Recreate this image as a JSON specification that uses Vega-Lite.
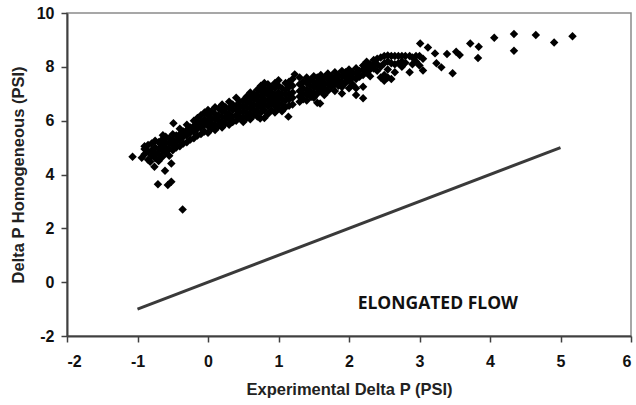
{
  "$schema": "https://vega.github.io/schema/vega-lite/v6.json",
  "width": 564,
  "height": 323,
  "autosize": {"type": "none"},
  "padding": {"left": 67, "top": 13, "right": 5, "bottom": 69},
  "background": "white",
  "config": {
    "view": {"stroke": "#8a8a8a", "strokeWidth": 1.5},
    "axis": {
      "domainColor": "#404040", "domainWidth": 2, "tickColor": "#404040", "tickWidth": 1.5, "tickSize": 6,
      "grid": false, "labelFont": "Liberation Sans", "labelFontWeight": "bold", "labelFontSize": 16, "labelColor": "#111",
      "titleFont": "Liberation Sans", "titleFontWeight": "bold", "titleFontSize": 16.5, "titleColor": "#222"
    }
  },
  "datasets": {
    "pts": [
      {"x": -1.07, "y": 4.66}, {"x": -0.94, "y": 4.62}, {"x": -0.82, "y": 4.47}, {"x": -0.76, "y": 4.29}, {"x": -0.61, "y": 4.14},
      {"x": -0.71, "y": 3.64}, {"x": -0.57, "y": 3.61}, {"x": -0.52, "y": 3.73}, {"x": -0.36, "y": 2.7}, {"x": -0.49, "y": 5.9},
      {"x": -0.64, "y": 5.46}, {"x": -0.52, "y": 4.41},
      {"x": -0.9, "y": 4.75}, {"x": -0.9, "y": 4.95}, {"x": -0.9, "y": 5.05},
      {"x": -0.85, "y": 4.55}, {"x": -0.85, "y": 4.85}, {"x": -0.85, "y": 5.1},
      {"x": -0.8, "y": 4.7}, {"x": -0.8, "y": 4.9}, {"x": -0.8, "y": 5.15},
      {"x": -0.75, "y": 4.6}, {"x": -0.75, "y": 4.8}, {"x": -0.75, "y": 5.0}, {"x": -0.75, "y": 5.25},
      {"x": -0.7, "y": 4.5}, {"x": -0.7, "y": 4.75}, {"x": -0.7, "y": 4.95}, {"x": -0.7, "y": 5.2},
      {"x": -0.65, "y": 4.65}, {"x": -0.65, "y": 4.9}, {"x": -0.65, "y": 5.1}, {"x": -0.65, "y": 5.3},
      {"x": -0.6, "y": 4.8}, {"x": -0.6, "y": 5.0}, {"x": -0.6, "y": 5.2}, {"x": -0.6, "y": 5.4},
      {"x": -0.55, "y": 4.7}, {"x": -0.55, "y": 4.95}, {"x": -0.55, "y": 5.15}, {"x": -0.55, "y": 5.35},
      {"x": -0.5, "y": 4.9}, {"x": -0.5, "y": 5.1}, {"x": -0.5, "y": 5.3}, {"x": -0.5, "y": 5.5},
      {"x": -0.45, "y": 5.0}, {"x": -0.45, "y": 5.2}, {"x": -0.45, "y": 5.45},
      {"x": -0.4, "y": 5.05}, {"x": -0.4, "y": 5.3}, {"x": -0.4, "y": 5.5}, {"x": -0.4, "y": 5.7},
      {"x": -0.35, "y": 5.15}, {"x": -0.35, "y": 5.4}, {"x": -0.35, "y": 5.6},
      {"x": -0.3, "y": 5.2}, {"x": -0.3, "y": 5.45}, {"x": -0.3, "y": 5.65}, {"x": -0.3, "y": 5.85},
      {"x": -0.25, "y": 5.3}, {"x": -0.25, "y": 5.55}, {"x": -0.25, "y": 5.75},
      {"x": -0.2, "y": 5.35}, {"x": -0.2, "y": 5.6}, {"x": -0.2, "y": 5.8}, {"x": -0.2, "y": 6.0},
      {"x": -0.15, "y": 5.45}, {"x": -0.15, "y": 5.7}, {"x": -0.15, "y": 5.9}, {"x": -0.15, "y": 6.1},
      {"x": -0.1, "y": 5.5}, {"x": -0.1, "y": 5.75}, {"x": -0.1, "y": 5.95}, {"x": -0.1, "y": 6.2},
      {"x": -0.05, "y": 5.6}, {"x": -0.05, "y": 5.85}, {"x": -0.05, "y": 6.05}, {"x": -0.05, "y": 6.3},
      {"x": 0.0, "y": 5.55}, {"x": 0.0, "y": 5.8}, {"x": 0.0, "y": 6.0}, {"x": 0.0, "y": 6.2}, {"x": 0.0, "y": 6.4},
      {"x": 0.05, "y": 5.7}, {"x": 0.05, "y": 5.9}, {"x": 0.05, "y": 6.1}, {"x": 0.05, "y": 6.35},
      {"x": 0.1, "y": 5.65}, {"x": 0.1, "y": 5.85}, {"x": 0.1, "y": 6.05}, {"x": 0.1, "y": 6.25}, {"x": 0.1, "y": 6.5},
      {"x": 0.15, "y": 5.8}, {"x": 0.15, "y": 6.0}, {"x": 0.15, "y": 6.2}, {"x": 0.15, "y": 6.45},
      {"x": 0.2, "y": 5.75}, {"x": 0.2, "y": 5.95}, {"x": 0.2, "y": 6.15}, {"x": 0.2, "y": 6.35}, {"x": 0.2, "y": 6.6},
      {"x": 0.25, "y": 5.9}, {"x": 0.25, "y": 6.1}, {"x": 0.25, "y": 6.3}, {"x": 0.25, "y": 6.5},
      {"x": 0.3, "y": 5.85}, {"x": 0.3, "y": 6.05}, {"x": 0.3, "y": 6.25}, {"x": 0.3, "y": 6.45}, {"x": 0.3, "y": 6.7},
      {"x": 0.35, "y": 5.95}, {"x": 0.35, "y": 6.15}, {"x": 0.35, "y": 6.4}, {"x": 0.35, "y": 6.6},
      {"x": 0.4, "y": 6.0}, {"x": 0.4, "y": 6.2}, {"x": 0.4, "y": 6.4}, {"x": 0.4, "y": 6.55}, {"x": 0.4, "y": 6.85},
      {"x": 0.45, "y": 6.1}, {"x": 0.45, "y": 6.3}, {"x": 0.45, "y": 6.5}, {"x": 0.45, "y": 6.7},
      {"x": 0.5, "y": 5.95}, {"x": 0.5, "y": 6.15}, {"x": 0.5, "y": 6.35}, {"x": 0.5, "y": 6.55}, {"x": 0.5, "y": 6.75},
      {"x": 0.55, "y": 6.1}, {"x": 0.55, "y": 6.3}, {"x": 0.55, "y": 6.5}, {"x": 0.55, "y": 6.7}, {"x": 0.55, "y": 6.9},
      {"x": 0.6, "y": 6.05}, {"x": 0.6, "y": 6.25}, {"x": 0.6, "y": 6.45}, {"x": 0.6, "y": 6.65}, {"x": 0.6, "y": 6.85}, {"x": 0.6, "y": 7.05},
      {"x": 0.65, "y": 6.2}, {"x": 0.65, "y": 6.4}, {"x": 0.65, "y": 6.6}, {"x": 0.65, "y": 6.8}, {"x": 0.65, "y": 7.0},
      {"x": 0.7, "y": 6.15}, {"x": 0.7, "y": 6.35}, {"x": 0.7, "y": 6.55}, {"x": 0.7, "y": 6.75}, {"x": 0.7, "y": 6.95}, {"x": 0.7, "y": 7.15},
      {"x": 0.75, "y": 6.3}, {"x": 0.75, "y": 6.5}, {"x": 0.75, "y": 6.7}, {"x": 0.75, "y": 6.9}, {"x": 0.75, "y": 7.1}, {"x": 0.75, "y": 7.3},
      {"x": 0.8, "y": 6.1}, {"x": 0.8, "y": 6.4}, {"x": 0.8, "y": 6.6}, {"x": 0.8, "y": 6.8}, {"x": 0.8, "y": 7.0}, {"x": 0.8, "y": 7.2}, {"x": 0.8, "y": 7.4},
      {"x": 0.85, "y": 6.25}, {"x": 0.85, "y": 6.55}, {"x": 0.85, "y": 6.75}, {"x": 0.85, "y": 6.95}, {"x": 0.85, "y": 7.15}, {"x": 0.85, "y": 7.35},
      {"x": 0.9, "y": 6.4}, {"x": 0.9, "y": 6.65}, {"x": 0.9, "y": 6.85}, {"x": 0.9, "y": 7.05}, {"x": 0.9, "y": 7.25},
      {"x": 0.95, "y": 6.3}, {"x": 0.95, "y": 6.55}, {"x": 0.95, "y": 6.75}, {"x": 0.95, "y": 6.95}, {"x": 0.95, "y": 7.2}, {"x": 0.95, "y": 7.4},
      {"x": 1.0, "y": 6.45}, {"x": 1.0, "y": 6.65}, {"x": 1.0, "y": 6.85}, {"x": 1.0, "y": 7.05}, {"x": 1.0, "y": 7.3}, {"x": 1.0, "y": 7.5},
      {"x": 1.05, "y": 6.35}, {"x": 1.05, "y": 6.6}, {"x": 1.05, "y": 6.8}, {"x": 1.05, "y": 7.0}, {"x": 1.05, "y": 7.2},
      {"x": 1.1, "y": 6.5}, {"x": 1.1, "y": 6.75}, {"x": 1.1, "y": 6.95}, {"x": 1.1, "y": 7.15}, {"x": 1.1, "y": 7.4},
      {"x": 1.14, "y": 6.15}, {"x": 0.74, "y": 6.08},
      {"x": 1.15, "y": 6.55}, {"x": 1.15, "y": 6.8}, {"x": 1.15, "y": 7.0}, {"x": 1.15, "y": 7.25}, {"x": 1.15, "y": 7.45},
      {"x": 1.2, "y": 6.6}, {"x": 1.2, "y": 6.85}, {"x": 1.2, "y": 7.05}, {"x": 1.2, "y": 7.3}, {"x": 1.2, "y": 7.55},
      {"x": 1.23, "y": 7.72},
      {"x": 1.3, "y": 6.7}, {"x": 1.3, "y": 6.9}, {"x": 1.3, "y": 7.1}, {"x": 1.3, "y": 7.35}, {"x": 1.3, "y": 7.6},
      {"x": 1.35, "y": 6.8}, {"x": 1.35, "y": 7.0}, {"x": 1.35, "y": 7.2}, {"x": 1.35, "y": 7.45},
      {"x": 1.4, "y": 6.75}, {"x": 1.4, "y": 6.95}, {"x": 1.4, "y": 7.15}, {"x": 1.4, "y": 7.4}, {"x": 1.4, "y": 7.6},
      {"x": 1.45, "y": 6.9}, {"x": 1.45, "y": 7.1}, {"x": 1.45, "y": 7.3}, {"x": 1.45, "y": 7.5},
      {"x": 1.47, "y": 6.89}, {"x": 1.59, "y": 6.64},
      {"x": 1.5, "y": 6.85}, {"x": 1.5, "y": 7.05}, {"x": 1.5, "y": 7.25}, {"x": 1.5, "y": 7.45}, {"x": 1.5, "y": 7.65},
      {"x": 1.55, "y": 6.67}, {"x": 1.55, "y": 7.0}, {"x": 1.55, "y": 7.2}, {"x": 1.55, "y": 7.4}, {"x": 1.55, "y": 7.6},
      {"x": 1.6, "y": 7.1}, {"x": 1.6, "y": 7.3}, {"x": 1.6, "y": 7.5}, {"x": 1.6, "y": 7.7},
      {"x": 1.65, "y": 6.95}, {"x": 1.65, "y": 7.2}, {"x": 1.65, "y": 7.4}, {"x": 1.65, "y": 7.6},
      {"x": 1.7, "y": 7.1}, {"x": 1.7, "y": 7.35}, {"x": 1.7, "y": 7.55}, {"x": 1.7, "y": 7.75},
      {"x": 1.75, "y": 7.25}, {"x": 1.75, "y": 7.45}, {"x": 1.75, "y": 7.65},
      {"x": 1.8, "y": 7.1}, {"x": 1.8, "y": 7.35}, {"x": 1.8, "y": 7.55}, {"x": 1.8, "y": 7.8},
      {"x": 1.85, "y": 7.3}, {"x": 1.85, "y": 7.5}, {"x": 1.85, "y": 7.7},
      {"x": 1.9, "y": 7.01}, {"x": 1.9, "y": 7.25}, {"x": 1.9, "y": 7.45}, {"x": 1.9, "y": 7.65}, {"x": 1.9, "y": 7.85},
      {"x": 1.95, "y": 7.4}, {"x": 1.95, "y": 7.6}, {"x": 1.95, "y": 7.8},
      {"x": 2.0, "y": 7.2}, {"x": 2.0, "y": 7.5}, {"x": 2.0, "y": 7.7}, {"x": 2.0, "y": 7.9},
      {"x": 2.05, "y": 7.35}, {"x": 2.05, "y": 7.6}, {"x": 2.05, "y": 7.8},
      {"x": 2.1, "y": 6.95}, {"x": 2.1, "y": 7.2}, {"x": 2.1, "y": 7.55}, {"x": 2.1, "y": 7.75}, {"x": 2.1, "y": 7.95},
      {"x": 2.15, "y": 7.63}, {"x": 2.15, "y": 7.85},
      {"x": 2.2, "y": 6.83}, {"x": 2.2, "y": 7.26}, {"x": 2.2, "y": 7.7}, {"x": 2.2, "y": 7.9}, {"x": 2.2, "y": 8.05},
      {"x": 2.25, "y": 7.8}, {"x": 2.25, "y": 8.0}, {"x": 2.25, "y": 8.19},
      {"x": 2.3, "y": 7.65}, {"x": 2.3, "y": 7.9}, {"x": 2.3, "y": 8.1},
      {"x": 2.35, "y": 7.94}, {"x": 2.35, "y": 8.07}, {"x": 2.35, "y": 8.25},
      {"x": 2.4, "y": 7.85}, {"x": 2.4, "y": 8.1}, {"x": 2.4, "y": 8.3},
      {"x": 2.45, "y": 7.6}, {"x": 2.45, "y": 8.0}, {"x": 2.45, "y": 8.35},
      {"x": 2.5, "y": 7.48}, {"x": 2.5, "y": 7.7}, {"x": 2.5, "y": 8.13}, {"x": 2.5, "y": 8.4},
      {"x": 2.55, "y": 7.6}, {"x": 2.55, "y": 7.9}, {"x": 2.55, "y": 8.2}, {"x": 2.55, "y": 8.42},
      {"x": 2.6, "y": 7.55}, {"x": 2.6, "y": 8.13}, {"x": 2.6, "y": 8.4},
      {"x": 2.65, "y": 7.8}, {"x": 2.65, "y": 8.1}, {"x": 2.65, "y": 8.4},
      {"x": 2.7, "y": 8.13}, {"x": 2.7, "y": 8.4},
      {"x": 2.75, "y": 8.0}, {"x": 2.75, "y": 8.2}, {"x": 2.75, "y": 8.4},
      {"x": 2.8, "y": 8.15}, {"x": 2.8, "y": 8.4},
      {"x": 2.86, "y": 7.8}, {"x": 2.86, "y": 8.4},
      {"x": 2.9, "y": 8.1}, {"x": 2.9, "y": 8.35},
      {"x": 2.95, "y": 8.2}, {"x": 2.95, "y": 8.4},
      {"x": 3.0, "y": 8.4}, {"x": 3.0, "y": 8.05},
      {"x": 3.01, "y": 8.87}, {"x": 3.05, "y": 7.86}, {"x": 3.05, "y": 8.3}, {"x": 3.12, "y": 8.72}, {"x": 3.22, "y": 8.5},
      {"x": 3.24, "y": 8.13}, {"x": 3.31, "y": 7.98}, {"x": 3.39, "y": 8.48}, {"x": 3.47, "y": 7.76}, {"x": 3.52, "y": 8.56},
      {"x": 3.57, "y": 8.44}, {"x": 3.72, "y": 8.87}, {"x": 3.84, "y": 8.75}, {"x": 3.83, "y": 8.33}, {"x": 4.06, "y": 9.08},
      {"x": 4.34, "y": 9.22}, {"x": 4.34, "y": 8.6}, {"x": 4.65, "y": 9.18}, {"x": 4.91, "y": 8.9}, {"x": 5.17, "y": 9.14}
    ],
    "line": [{"x": -1, "y": -1}, {"x": 5, "y": 5}],
    "label": [{"x": 3.26, "y": -0.82, "text": "ELONGATED FLOW"}]
  },
  "layer": [
    {
      "data": {"name": "line"},
      "mark": {"type": "line", "color": "#3a3a3a", "strokeWidth": 3},
      "encoding": {
        "x": {"field": "x", "type": "quantitative", "scale": {"domain": [-2, 6], "nice": false}, "axis": {"title": "Experimental Delta P (PSI)", "values": [-2, -1, 0, 1, 2, 3, 4, 5, 6], "labelExpr": "datum.value + ''", "labelPadding": 11, "titlePadding": 12}},
        "y": {"field": "y", "type": "quantitative", "scale": {"domain": [-2, 10], "nice": false}, "axis": {"title": "Delta P Homogeneous (PSI)", "values": [-2, 0, 2, 4, 6, 8, 10], "labelExpr": "datum.value + ''", "labelPadding": 7, "titlePadding": 10}}
      }
    },
    {
      "data": {"name": "pts"},
      "mark": {"type": "point", "shape": "diamond", "filled": true, "color": "#000", "opacity": 1, "size": 72},
      "encoding": {
        "x": {"field": "x", "type": "quantitative"},
        "y": {"field": "y", "type": "quantitative"}
      }
    },
    {
      "data": {"name": "label"},
      "mark": {"type": "text", "font": "Open Sans", "fontWeight": "bold", "fontSize": 17.5, "color": "#111", "align": "center", "baseline": "middle"},
      "encoding": {
        "x": {"field": "x", "type": "quantitative"},
        "y": {"field": "y", "type": "quantitative"},
        "text": {"field": "text"}
      }
    }
  ]
}
